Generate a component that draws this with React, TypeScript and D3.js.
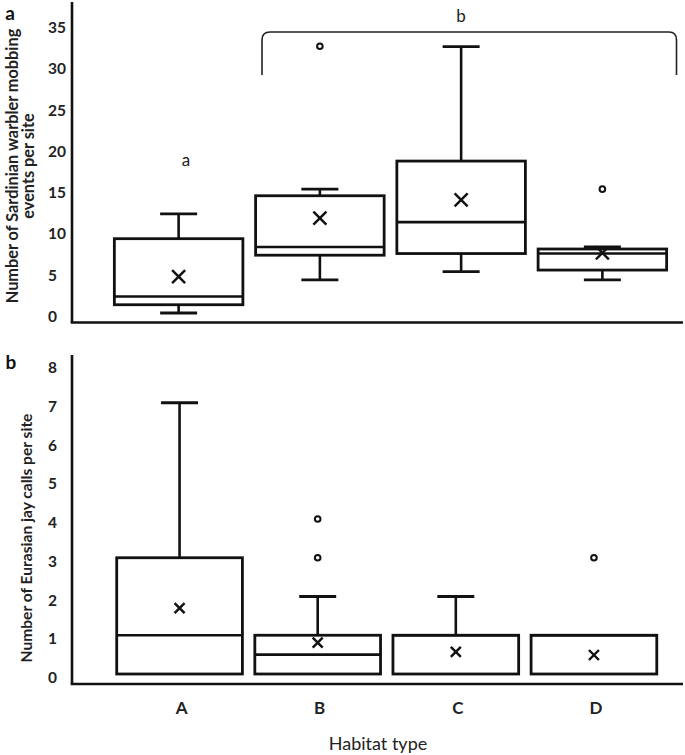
import React from "react";
import * as d3 from "d3";

const categories = ["A", "B", "C", "D"];

// Panel a: Sardinian warbler mobbing events per site
const warblerMin = [0, 4, 5, 4];
const warblerQ1 = [1, 7, 7.2, 5.2];
const warblerMedian = [2, 8, 11, 7.2];
const warblerQ3 = [9, 14.2, 18.4, 7.75];
const warblerMax = [12, 15, 32.25, 8];
const warblerMean = [4.4, 11.5, 13.7, 7.27];
const warblerOutliers = [[], [32.3], [], [15]];
const warblerTicks = [0, 5, 10, 15, 20, 25, 30, 35];
const warblerLetters = [
  { label: "a", value: 19 },
  { label: "b", value: 36 },
];

// Panel b: Eurasian jay calls per site
const jayMin = [0, 0, 0, 0];
const jayQ1 = [0, 0, 0, 0];
const jayMedian = [1, 0.5, 1, 1];
const jayQ3 = [3, 1, 1, 1];
const jayMax = [7, 2, 2, 1];
const jayMean = [1.7, 0.81, 0.57, 0.49];
const jayOutliers = [[], [4, 3], [], [3]];
const jayTicks = [0, 1, 2, 3, 4, 5, 6, 7, 8];

const FONT = "Lato, 'Open Sans', sans-serif";

type PanelProps = {
  mins: number[];
  q1: number[];
  med: number[];
  q3: number[];
  max: number[];
  mean: number[];
  outliers: number[][];
  ticks: number[];
  yDomain: [number, number];
  yRange: [number, number];
  xRange: [number, number];
  axisTop: number;
  axisBottom: number;
  xLeft: number;
  xRight: number;
  crossHalf: number;
};

function Panel(p: PanelProps) {
  const x = d3.scaleBand<string>().domain(categories).range(p.xRange).paddingInner(0.09).paddingOuter(0.045);
  const y = d3.scaleLinear().domain(p.yDomain).range(p.yRange);
  const bw = x.bandwidth();
  const capHalf = 18.5;
  return (
    <g>
      <line x1={p.xLeft} x2={p.xLeft} y1={p.axisTop} y2={p.axisBottom} stroke="#111" strokeWidth={2.6} />
      <line x1={p.xLeft - 1.3} x2={p.xRight} y1={p.axisBottom} y2={p.axisBottom} stroke="#111" strokeWidth={2.6} />
      {p.ticks.map((t) => (
        <text key={t} x={48} y={y(t) + 3} dominantBaseline="central" fontFamily={FONT} fontWeight="bold" fontSize={15.5} fill="#222">
          {t}
        </text>
      ))}
      {categories.map((c, i) => {
        const x0 = x(c) as number;
        const cx = x0 + bw / 2;
        return (
          <g key={c}>
            {p.max[i] > p.q3[i] && (
              <g>
                <line x1={cx} x2={cx} y1={y(p.q3[i])} y2={y(p.max[i])} stroke="#111" strokeWidth={2.6} />
                <line x1={cx - capHalf} x2={cx + capHalf} y1={y(p.max[i])} y2={y(p.max[i])} stroke="#111" strokeWidth={2.8} />
              </g>
            )}
            {p.mins[i] < p.q1[i] && (
              <g>
                <line x1={cx} x2={cx} y1={y(p.q1[i])} y2={y(p.mins[i])} stroke="#111" strokeWidth={2.6} />
                <line x1={cx - capHalf} x2={cx + capHalf} y1={y(p.mins[i])} y2={y(p.mins[i])} stroke="#111" strokeWidth={2.8} />
              </g>
            )}
            <rect x={x0} y={y(p.q3[i])} width={bw} height={y(p.q1[i]) - y(p.q3[i])} fill="white" stroke="#111" strokeWidth={2.8} />
            <line x1={x0} x2={x0 + bw} y1={y(p.med[i])} y2={y(p.med[i])} stroke="#111" strokeWidth={2.6} />
            <g stroke="#111" strokeWidth={2.4}>
              <line x1={cx - p.crossHalf} x2={cx + p.crossHalf} y1={y(p.mean[i]) - p.crossHalf} y2={y(p.mean[i]) + p.crossHalf} />
              <line x1={cx - p.crossHalf} x2={cx + p.crossHalf} y1={y(p.mean[i]) + p.crossHalf} y2={y(p.mean[i]) - p.crossHalf} />
            </g>
            {p.outliers[i].map((o, j) => (
              <circle key={j} cx={cx} cy={y(o)} r={2.8} fill="white" stroke="#111" strokeWidth={2} />
            ))}
          </g>
        );
      })}
    </g>
  );
}

export default function App() {
  const yA = d3.scaleLinear().domain([0, 35]).range([313, 24]);
  const xb = d3.scaleBand<string>().domain(categories).range([110.5, 663]).paddingInner(0.09).paddingOuter(0.045);
  return (
    <svg width={685} height={755} style={{ position: "absolute", left: 0, top: 0, background: "white" }}>
      <rect width={685} height={755} fill="white" />
      <Panel
        mins={warblerMin}
        q1={warblerQ1}
        med={warblerMedian}
        q3={warblerQ3}
        max={warblerMax}
        mean={warblerMean}
        outliers={warblerOutliers}
        ticks={warblerTicks}
        yDomain={[0, 35]}
        yRange={[313, 24]}
        xRange={[108, 673]}
        axisTop={2}
        axisBottom={322.5}
        xLeft={72}
        xRight={683}
        crossHalf={6.5}
      />
      <text x={10} y={12} dominantBaseline="central" textAnchor="middle" fontFamily={FONT} fontWeight="bold" fontSize={19} fill="#111">a</text>
      <g transform="translate(11,166) rotate(-90)">
        <text x={0} y={0} textAnchor="middle" dominantBaseline="central" fontFamily={FONT} fontWeight="bold" fontSize={16.3} fill="#222">
          Number of Sardinian warbler mobbing
        </text>
        <text x={0} y={16} textAnchor="middle" dominantBaseline="central" fontFamily={FONT} fontWeight="bold" fontSize={16.3} fill="#222">
          events per site
        </text>
      </g>
      <text x={186} y={yA(warblerLetters[0].value) + 3} textAnchor="middle" dominantBaseline="central" fontFamily={FONT} fontSize={17} fill="#222">
        {warblerLetters[0].label}
      </text>
      <path d="M262,75 L262,40 Q262,32 270,32 L669,32 Q676.5,32 676.5,40 L676.5,75" fill="none" stroke="#222" strokeWidth={1.6} />
      <text x={461} y={15} textAnchor="middle" dominantBaseline="central" fontFamily={FONT} fontSize={17} fill="#222">
        {warblerLetters[1].label}
      </text>

      <Panel
        mins={jayMin}
        q1={jayQ1}
        med={jayMedian}
        q3={jayQ3}
        max={jayMax}
        mean={jayMean}
        outliers={jayOutliers}
        ticks={jayTicks}
        yDomain={[0, 8]}
        yRange={[674, 364]}
        xRange={[110.5, 663]}
        axisTop={355}
        axisBottom={684}
        xLeft={72}
        xRight={683}
        crossHalf={5}
      />
      <text x={11} y={361} textAnchor="middle" dominantBaseline="central" fontFamily={FONT} fontWeight="bold" fontSize={19} fill="#111">b</text>
      <g transform="translate(26,538) rotate(-90)">
        <text x={0} y={0} textAnchor="middle" dominantBaseline="central" fontFamily={FONT} fontWeight="bold" fontSize={15.6} fill="#222">
          Number of Eurasian jay calls per site
        </text>
      </g>
      {categories.map((c) => (
        <text key={c} x={(xb(c) as number) + xb.bandwidth() / 2 + 2} y={707} textAnchor="middle" dominantBaseline="central" fontFamily={FONT} fontWeight="bold" fontSize={17} fill="#222">
          {c}
        </text>
      ))}
      <text x={378} y={743} textAnchor="middle" dominantBaseline="central" fontFamily={FONT} fontSize={18} fill="#222">
        Habitat type
      </text>
    </svg>
  );
}
